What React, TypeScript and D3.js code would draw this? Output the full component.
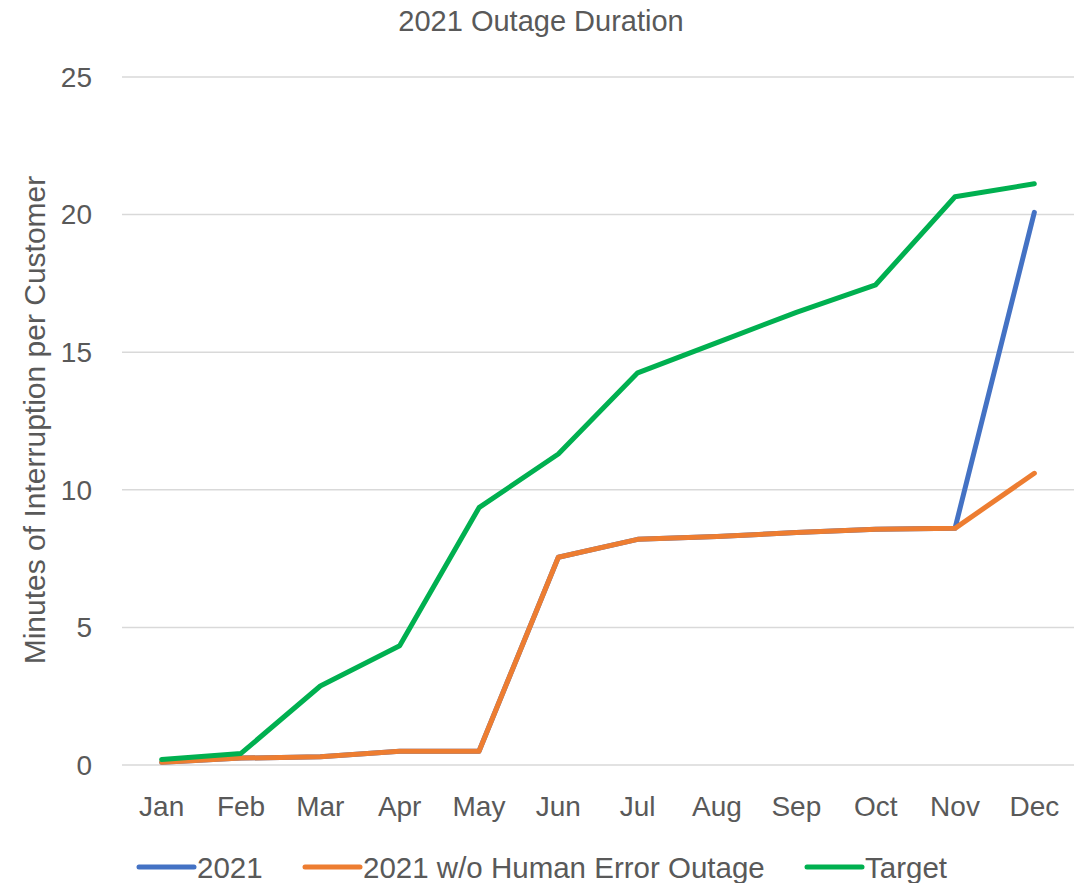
import React from "react";
import * as d3 from "d3";

const months = ["Jan", "Feb", "Mar", "Apr", "May", "Jun", "Jul", "Aug", "Sep", "Oct", "Nov", "Dec"];
const series2021 = [0.1, 0.25, 0.3, 0.5, 0.5, 7.55, 8.2, 8.3, 8.45, 8.57, 8.6, 20.08];
const seriesNoHuman = [0.1, 0.25, 0.3, 0.5, 0.5, 7.55, 8.2, 8.3, 8.45, 8.57, 8.6, 10.6];
const seriesTarget = [0.2, 0.42, 2.87, 4.33, 9.35, 11.3, 14.25, 15.35, 16.45, 17.45, 20.65, 21.12];
const yTicks = [0, 5, 10, 15, 20, 25];
const seriesNames = ["2021", "2021 w/o Human Error Outage", "Target"];
const seriesColors = ["#4472C4", "#ED7D31", "#00B050"];

const W = 1081;
const H = 883;
const FONT = "'Liberation Sans', Arial, sans-serif";
const TEXT = "#595959";

export default function App() {
  const x = d3.scaleBand<string>().domain(months).range([122, 1074]);
  const y = d3.scaleLinear().domain([0, 25]).range([765, 77]);
  const cx = (m: string) => (x(m) as number) + x.bandwidth() / 2;
  const line = d3
    .line<number>()
    .x((_, i) => cx(months[i]))
    .y((d) => y(d));
  const allSeries = [series2021, seriesNoHuman, seriesTarget];
  const legendX = [139, 305, 807];

  return (
    <svg width={W} height={H} style={{ position: "absolute", left: 0, top: 0, background: "#fff" }} fontFamily={FONT}>
      <rect x={0} y={0} width={W} height={H} fill="#fff" />
      <text x={541} y={31} textAnchor="middle" fontSize={29} fill={TEXT}>
        2021 Outage Duration
      </text>
      {yTicks.map((t) => (
        <g key={t}>
          <line x1={122} x2={1074} y1={y(t)} y2={y(t)} stroke="#D9D9D9" strokeWidth={1.5} />
          <text x={92} y={y(t)} dy="0.35em" textAnchor="end" fontSize={28} fill={TEXT}>
            {t}
          </text>
        </g>
      ))}
      {months.map((m) => (
        <text key={m} x={cx(m)} y={816} textAnchor="middle" fontSize={28} fill={TEXT}>
          {m}
        </text>
      ))}
      <text
        transform={`translate(45,420) rotate(-90)`}
        textAnchor="middle"
        fontSize={30}
        fill={TEXT}
      >
        Minutes of Interruption per Customer
      </text>
      {allSeries.map((s, i) => (
        <path
          key={i}
          d={line(s) as string}
          fill="none"
          stroke={seriesColors[i]}
          strokeWidth={5}
          strokeLinejoin="round"
          strokeLinecap="round"
        />
      ))}
      {seriesNames.map((n, i) => (
        <g key={n}>
          <line x1={legendX[i]} x2={legendX[i] + 55} y1={867} y2={867} stroke={seriesColors[i]} strokeWidth={5} strokeLinecap="round" />
          <text x={legendX[i] + 58} y={878} fontSize={29.5} fill={TEXT}>
            {n}
          </text>
        </g>
      ))}
    </svg>
  );
}
